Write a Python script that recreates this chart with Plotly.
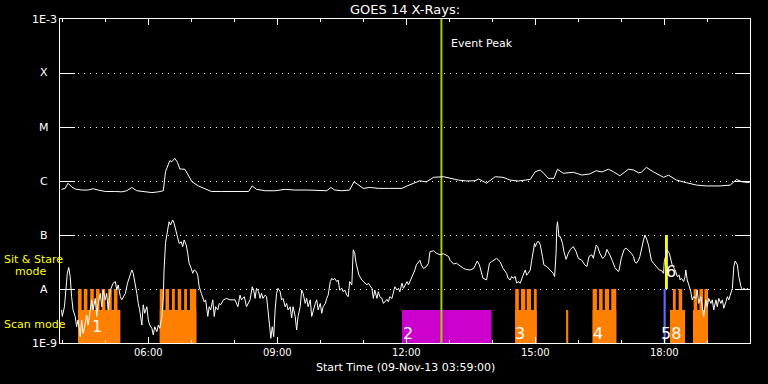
import math
import plotly.graph_objects as go

DAY = "2013-11-09 "


def T(lst):
    return [DAY + s for s in lst]


# ---------------- data ----------------
level_values = [1e-9, 1e-8, 1e-7, 1e-6, 1e-5, 1e-4, 1e-3]
level_labels = ["1E-9", "A", "B", "C", "M", "X", "1E-3"]
x_tick_times = ["06:00", "09:00", "12:00", "15:00", "18:00"]

# GOES 14 long channel (1-8 A)
long_time = [
    "03:59", "04:04", "04:08", "04:13", "04:18", "04:27", "04:36", "04:43", "04:50", "05:00",
    "05:13", "05:23", "05:30", "05:37", "05:44", "05:55", "06:05", "06:14", "06:21", "06:24",
    "06:28", "06:30", "06:33", "06:37", "06:41", "06:44", "06:51", "06:56", "07:01", "07:10",
    "07:19", "07:28", "07:42", "08:06", "08:20", "08:25", "08:31", "08:43", "08:57", "09:11",
    "09:25", "09:43", "09:57", "10:09", "10:15", "10:20", "10:30", "10:41", "10:47", "10:53",
    "11:00", "11:09", "11:21", "11:35", "11:54", "12:01", "12:10", "12:19", "12:28", "12:38",
    "12:52", "13:01", "13:13", "13:24", "13:36", "13:41", "13:47", "13:52", "14:04", "14:15",
    "14:25", "14:36", "14:46", "14:53", "15:00", "15:07", "15:14", "15:18", "15:26", "15:31",
    "15:39", "15:53", "16:05", "16:16", "16:25", "16:33", "16:42", "16:49", "16:58", "17:10",
    "17:17", "17:24", "17:28", "17:35", "17:45", "17:59", "18:06", "18:17", "18:31", "18:45",
    "18:59", "19:18", "19:32", "19:41", "19:48", "19:59",
]
long_flux = [
    7.0e-7, 7.3e-7, 9.1e-7, 7.8e-7, 7.1e-7, 6.8e-7, 6.8e-7, 7.2e-7, 6.8e-7, 6.4e-7,
    6.4e-7, 6.3e-7, 6.6e-7, 7.6e-7, 6.6e-7, 6.3e-7, 6.1e-7, 6.3e-7, 6.6e-7, 1.49e-6,
    1.98e-6, 2.38e-6, 2.28e-6, 2.63e-6, 2.18e-6, 1.67e-6, 1.65e-6, 1.29e-6, 9.7e-7, 8.1e-7,
    7.3e-7, 6.4e-7, 6.4e-7, 6.4e-7, 6.4e-7, 8.1e-7, 7.0e-7, 6.6e-7, 6.6e-7, 7.0e-7,
    6.8e-7, 6.8e-7, 6.8e-7, 6.6e-7, 7.6e-7, 6.8e-7, 6.6e-7, 6.8e-7, 9.7e-7, 8.4e-7,
    7.3e-7, 7.6e-7, 7.3e-7, 7.3e-7, 7.3e-7, 8.1e-7, 9.1e-7, 1.01e-6, 9.6e-7, 1.17e-6,
    1.2e-6, 1.12e-6, 1.04e-6, 1.0e-6, 1.01e-6, 1.09e-6, 9.7e-7, 9.1e-7, 1.2e-6, 1.17e-6,
    1.04e-6, 1.0e-6, 1.04e-6, 1.07e-6, 1.49e-6, 1.6e-6, 1.29e-6, 1.12e-6, 1.12e-6, 1.65e-6,
    1.39e-6, 1.45e-6, 1.29e-6, 1.35e-6, 1.55e-6, 1.47e-6, 1.65e-6, 1.49e-6, 1.25e-6, 1.65e-6,
    1.6e-6, 1.42e-6, 1.45e-6, 1.79e-6, 1.47e-6, 1.17e-6, 1.28e-6, 1.04e-6, 9.3e-7, 8.4e-7,
    8.1e-7, 8.1e-7, 8.4e-7, 1.07e-6, 9.7e-7, 9.3e-7,
]

# GOES 14 short channel (0.5-4 A)
short_time = [
    "03:59", "04:00", "04:03", "04:05", "04:07", "04:09", "04:11", "04:13", "04:15", "04:18",
    "04:20", "04:22", "04:25", "04:27", "04:29", "04:32", "04:34", "04:36", "04:39", "04:41",
    "04:43", "04:46", "04:48", "04:50", "04:53", "04:55", "04:57", "05:00", "05:02", "05:04",
    "05:07", "05:09", "05:11", "05:14", "05:16", "05:18", "05:21", "05:23", "05:25", "05:28",
    "05:31", "05:35", "05:37", "05:39", "05:41", "05:44", "05:46", "05:48", "05:51", "05:53",
    "05:55", "05:58", "06:00", "06:02", "06:05", "06:07", "06:09", "06:12", "06:14", "06:16",
    "06:19", "06:21", "06:22", "06:24", "06:27", "06:29", "06:31", "06:34", "06:36", "06:38",
    "06:41", "06:43", "06:46", "06:48", "06:50", "06:53", "06:55", "06:57", "07:00", "07:02",
    "07:04", "07:07", "07:09", "07:11", "07:14", "07:16", "07:18", "07:20", "07:23", "07:25",
    "07:27", "07:30", "07:32", "07:34", "07:37", "07:39", "07:41", "07:45", "07:49", "07:54",
    "08:01", "08:05", "08:08", "08:10", "08:14", "08:17", "08:22", "08:25", "08:27", "08:29",
    "08:31", "08:34", "08:36", "08:38", "08:40", "08:43", "08:45", "08:47", "08:49", "08:51",
    "08:53", "08:55", "08:57", "08:59", "09:01", "09:04", "09:06", "09:08", "09:11", "09:13",
    "09:15", "09:18", "09:20", "09:22", "09:25", "09:27", "09:29", "09:32", "09:34", "09:36",
    "09:39", "09:41", "09:43", "09:46", "09:48", "09:50", "09:53", "09:55", "09:57", "10:00",
    "10:02", "10:04", "10:07", "10:09", "10:11", "10:14", "10:16", "10:18", "10:20", "10:23",
    "10:25", "10:27", "10:30", "10:32", "10:34", "10:37", "10:39", "10:41", "10:44", "10:46",
    "10:48", "10:50", "10:52", "10:54", "10:58", "11:00", "11:02", "11:05", "11:07", "11:09",
    "11:12", "11:14", "11:16", "11:19", "11:21", "11:23", "11:26", "11:28", "11:30", "11:33",
    "11:35", "11:37", "11:40", "11:42", "11:44", "11:47", "11:49", "11:51", "11:54", "11:56",
    "11:58", "12:01", "12:03", "12:05", "12:07", "12:10", "12:12", "12:14", "12:17", "12:19",
    "12:21", "12:24", "12:28", "12:31", "12:33", "12:38", "12:42", "12:47", "12:52", "12:59",
    "13:01", "13:06", "13:10", "13:15", "13:20", "13:24", "13:29", "13:34", "13:36", "13:39",
    "13:42", "13:45", "13:47", "13:52", "13:54", "13:56", "13:59", "14:04", "14:06", "14:11",
    "14:15", "14:20", "14:22", "14:25", "14:27", "14:29", "14:32", "14:34", "14:36", "14:39",
    "14:41", "14:43", "14:46", "14:48", "14:50", "14:53", "14:55", "14:57", "14:59", "15:00",
    "15:03", "15:05", "15:07", "15:10", "15:12", "15:16", "15:20", "15:23", "15:25", "15:27",
    "15:29", "15:30", "15:31", "15:32", "15:33", "15:35", "15:38", "15:40", "15:43", "15:46",
    "15:49", "15:53", "15:57", "16:00", "16:05", "16:09", "16:12", "16:15", "16:19", "16:21",
    "16:25", "16:27", "16:30", "16:34", "16:37", "16:40", "16:44", "16:48", "16:51", "16:56",
    "16:57", "17:00", "17:04", "17:07", "17:11", "17:14", "17:17", "17:19", "17:21", "17:24",
    "17:26", "17:28", "17:31", "17:33", "17:35", "17:38", "17:40", "17:42", "17:45", "17:49",
    "17:53", "17:56", "17:59", "18:00", "18:02", "18:04", "18:07", "18:09", "18:11", "18:14",
    "18:16", "18:18", "18:21", "18:22", "18:24", "18:27", "18:29", "18:30", "18:32", "18:35",
    "18:37", "18:39", "18:41", "18:44", "18:46", "18:48", "18:51", "18:53", "18:55", "18:58",
    "19:00", "19:02", "19:05", "19:07", "19:09", "19:12", "19:14", "19:16", "19:19", "19:21",
    "19:23", "19:26", "19:28", "19:30", "19:33", "19:35", "19:37", "19:39", "19:42", "19:44",
    "19:47", "19:49", "19:51", "19:54", "19:56", "19:58",
]
short_flux = [
    4.1e-9, 3.1e-9, 4.7e-9, 1.1e-8, 1.95e-8, 2.5e-8, 1.7e-8, 7.2e-9, 4.1e-9, 3.1e-9,
    2.0e-9, 2.67e-9, 1.31e-9, 2.67e-9, 1.51e-9, 2.3e-9, 3.3e-9, 2.15e-9, 4.1e-9, 6.3e-9,
    4.1e-9, 6.7e-9, 3.1e-9, 5.4e-9, 8.3e-9, 4.7e-9, 9.6e-9, 6.3e-9, 8.3e-9, 4.1e-9,
    9.6e-9, 1.1e-8, 1.28e-8, 1.37e-8, 9.6e-9, 1.19e-8, 7.2e-9, 6.3e-9, 7.2e-9, 8.3e-9,
    1.28e-8, 1.8e-8, 2.25e-8, 1.95e-8, 1.47e-8, 8.3e-9, 5.4e-9, 4.1e-9, 2.15e-9, 5.1e-9,
    3.55e-9, 4.7e-9, 2.67e-9, 2.15e-9, 1.87e-9, 1.41e-9, 2.0e-9, 1.62e-9, 2.15e-9, 1.87e-9,
    3.1e-9, 7.2e-9, 2.25e-8, 7.0e-8, 1.24e-7, 1.76e-7, 1.53e-7, 1.9e-7, 1.65e-7, 1.24e-7,
    9.3e-8, 7.0e-8, 7.5e-8, 6.1e-8, 8.1e-8, 6.5e-8, 4.6e-8, 3.0e-8, 2.4e-8, 1.95e-8,
    2.25e-8, 2.1e-8, 1.8e-8, 1.1e-8, 8.3e-9, 6.7e-9, 5.8e-9, 6.3e-9, 3.1e-9, 4.7e-9,
    4.1e-9, 6.3e-9, 3.1e-9, 4.7e-9, 4.1e-9, 5.4e-9, 5.1e-9, 6.3e-9, 6.7e-9, 6.3e-9,
    6.3e-9, 4.7e-9, 7.7e-9, 6.3e-9, 7.2e-9, 4.7e-9, 6.3e-9, 1.1e-8, 9.6e-9, 6.7e-9,
    1.03e-8, 8.9e-9, 6.7e-9, 8.3e-9, 6.7e-9, 7.7e-9, 7.2e-9, 4.1e-9, 2.0e-9, 1.22e-9,
    2.0e-9, 1.31e-9, 4.1e-9, 8.3e-9, 1.03e-8, 8.9e-9, 6.3e-9, 6.7e-9, 4.7e-9, 5.4e-9,
    4.1e-9, 4.7e-9, 2.9e-9, 4.7e-9, 3.1e-9, 1.74e-9, 3.1e-9, 4.7e-9, 9.6e-9, 8.3e-9,
    5.4e-9, 6.7e-9, 4.7e-9, 6.3e-9, 3.1e-9, 4.1e-9, 5.4e-9, 6.3e-9, 4.1e-9, 5.4e-9,
    3.55e-9, 4.7e-9, 5.4e-9, 6.7e-9, 7.7e-9, 1.37e-8, 1.58e-8, 1.47e-8, 1.58e-8, 1.37e-8,
    1.47e-8, 9.6e-9, 1.03e-8, 8.9e-9, 9.6e-9, 7.7e-9, 7.2e-9, 1.37e-8, 1.19e-8, 5.3e-8,
    4.6e-8, 3.0e-8, 2.4e-8, 1.8e-8, 1.47e-8, 1.37e-8, 1.28e-8, 1.19e-8, 1.28e-8, 1.19e-8,
    1.03e-8, 6.7e-9, 9.6e-9, 6.7e-9, 8.9e-9, 7.2e-9, 6.7e-9, 5.4e-9, 5.8e-9, 6.4e-9,
    5.8e-9, 7.2e-9, 6.7e-9, 8.9e-9, 1.1e-8, 9.6e-9, 1.03e-8, 8.9e-9, 1.28e-8, 1.03e-8,
    1.19e-8, 1.37e-8, 1.19e-8, 1.37e-8, 1.7e-8, 1.95e-8, 2.25e-8, 2.8e-8, 3.2e-8, 3.4e-8,
    2.8e-8, 2.4e-8, 2.6e-8, 3.0e-8, 4.9e-8, 5.1e-8, 4.6e-8, 4.3e-8, 4.5e-8, 4.0e-8,
    3.4e-8, 2.9e-8, 3.0e-8, 2.67e-8, 2.4e-8, 2.3e-8, 2.25e-8, 2.4e-8, 2.8e-8, 3.3e-8,
    2.8e-8, 1.95e-8, 1.58e-8, 1.47e-8, 2.25e-8, 3.0e-8, 3.2e-8, 3.55e-8, 3.7e-8, 3.2e-8,
    2.4e-8, 1.95e-8, 1.58e-8, 1.47e-8, 1.7e-8, 1.58e-8, 1.7e-8, 1.28e-8, 1.37e-8, 1.28e-8,
    1.58e-8, 1.8e-8, 2.25e-8, 1.8e-8, 1.95e-8, 2.25e-8, 3.4e-8, 4.6e-8, 7.0e-8, 6.1e-8,
    7.5e-8, 7.5e-8, 6.5e-8, 4.0e-8, 2.8e-8, 2.6e-8, 2.25e-8, 2.1e-8, 1.95e-8, 1.7e-8,
    4.6e-8, 1.42e-7, 1.76e-7, 1.33e-7, 9.3e-8, 9.3e-8, 7.0e-8, 4.9e-8, 3.55e-8, 4.6e-8,
    5.4e-8, 6.1e-8, 4.9e-8, 3.7e-8, 3.4e-8, 2.8e-8, 2.6e-8, 4.0e-8, 4.3e-8, 3.7e-8,
    6.5e-8, 6.1e-8, 4.6e-8, 3.7e-8, 4.0e-8, 5.4e-8, 4.3e-8, 3.2e-8, 2.5e-8, 2.1e-8,
    2.25e-8, 3.7e-8, 5.4e-8, 5.7e-8, 5.1e-8, 4.6e-8, 4.0e-8, 3.2e-8, 3.0e-8, 3.4e-8,
    4.0e-8, 5.7e-8, 8.1e-8, 1.0e-7, 8.7e-8, 6.5e-8, 4.6e-8, 3.4e-8, 3.0e-8, 2.6e-8,
    2.25e-8, 2.2e-8, 1.95e-8, 3.2e-8, 4.0e-8, 5.3e-8, 4.6e-8, 3.4e-8, 2.8e-8, 2.4e-8,
    2.1e-8, 1.7e-8, 1.8e-8, 1.47e-8, 1.58e-8, 1.37e-8, 1.7e-8, 2.25e-8, 1.47e-8, 1.1e-8,
    8.9e-9, 6.3e-9, 7.2e-9, 6.7e-9, 9.6e-9, 5.4e-9, 7.2e-9, 4.7e-9, 3.1e-9, 6.3e-9,
    4.7e-9, 6.7e-9, 5.4e-9, 6.3e-9, 4.1e-9, 6.3e-9, 4.7e-9, 6.7e-9, 5.4e-9, 6.3e-9,
    4.4e-9, 5.8e-9, 7.2e-9, 6.3e-9, 8.9e-9, 1.03e-8, 2.6e-8, 3.3e-8, 2.8e-8, 1.7e-8,
    1.1e-8, 9.6e-9, 1.03e-8, 9.6e-9, 1.03e-8, 9.6e-9,
]

# observing mode intervals
scan_low_start = ["04:22", "06:16", "14:32", "15:43", "16:20", "18:08", "18:40"]
scan_low_end = ["05:21", "07:07", "15:02", "15:46", "16:53", "18:29", "19:01"]
scan_high_start = ["04:22", "04:30", "04:39", "04:47", "04:55", "05:04", "05:12",
                   "06:16", "06:24", "06:33", "06:41", "06:50", "06:58",
                   "14:32", "14:40", "14:48", "14:58",
                   "16:20", "16:29", "16:37", "16:46",
                   "18:12", "18:20",
                   "18:41", "18:49", "18:56"]
scan_high_end = ["04:27", "04:35", "04:44", "04:52", "05:00", "05:09", "05:17",
                 "06:21", "06:29", "06:37", "06:46", "06:54", "07:07",
                 "14:37", "14:46", "14:54", "15:02",
                 "16:26", "16:34", "16:43", "16:53",
                 "18:16", "18:25",
                 "18:46", "18:54", "19:01"]
sit_start = ["11:54"]
sit_end = ["13:59"]
blue_start, blue_end = ["17:59"], ["18:02"]
yellow_start, yellow_end = ["18:01"], ["18:05"]
level_floor, level_low, level_A, level_B = 1e-9, 4.1e-9, 1e-8, 1e-7

event_peak_time = "12:49"

mode_label_text = ["1", "2", "3", "4", "58", "6"]
mode_label_time = ["04:48", "12:02", "14:39", "16:28", "18:10", "18:10"]
mode_label_ypx = [326, 333, 333, 333, 333, 271]

# ---------------- figure ----------------
L, R, TOP, BOT = 60, 18, 19, 41
W, H = 768, 384
PW, PH = W - L - R, H - TOP - BOT


def px_x(px):
    return (px - L) / PW


def px_y(py):
    return (H - BOT - py) / PH


def rects(starts, ends, lo, hi):
    xs, ys = [], []
    for s, e in zip(T(starts), T(ends)):
        xs += [s, s, e, e, s, None]
        ys += [lo, hi, hi, lo, lo, None]
    return xs, ys


fig = go.Figure()

ORANGE = "#FF8000"
for (st, en, lo, hi, col) in [
    (scan_low_start, scan_low_end, level_floor, level_low, ORANGE),
    (scan_high_start, scan_high_end, level_floor, level_A, ORANGE),
    (sit_start, sit_end, level_floor, level_low, "#CC00CC"),
    (blue_start, blue_end, level_floor, level_A, "#6666FF"),
    (yellow_start, yellow_end, level_A, level_B, "#FFFF00"),
]:
    xs, ys = rects(st, en, lo, hi)
    fig.add_trace(go.Scatter(x=xs, y=ys, mode="lines", fill="toself",
                             fillcolor=col, line=dict(width=0, color=col),
                             hoverinfo="skip", showlegend=False))

fig.add_trace(go.Scatter(x=T([event_peak_time, event_peak_time]), y=[1e-9, 1e-3],
                         mode="lines", line=dict(color="#A0D000", width=2),
                         showlegend=False))

fig.add_trace(go.Scatter(x=T(long_time), y=long_flux, mode="lines",
                         line=dict(color="white", width=1), showlegend=False))
fig.add_trace(go.Scatter(x=T(short_time), y=short_flux, mode="lines",
                         line=dict(color="white", width=1), showlegend=False))

FONT = "DejaVu Sans"
ann = []
for v, lab in zip(level_values, level_labels):
    ann.append(dict(x=px_x(44), y=(math.log10(v) + 9) / 6, xref="paper", yref="paper",
                    text=lab, showarrow=False, xanchor="center", yanchor="middle",
                    font=dict(family=FONT, size=11, color="white")))
for txt, t, py in zip(mode_label_text, mode_label_time, mode_label_ypx):
    ann.append(dict(x=DAY + t, y=px_y(py), xref="x", yref="paper", text=txt,
                    showarrow=False, xanchor="center", yanchor="middle",
                    font=dict(family=FONT, size=16, color="white")))
ann += [
    dict(x=px_x(2), y=px_y(259), xref="paper", yref="paper", text="Sit & Stare",
         showarrow=False, xanchor="left", yanchor="middle",
         font=dict(family=FONT, size=11, color="#FFFF00")),
    dict(x=px_x(13), y=px_y(271.5), xref="paper", yref="paper", text="mode",
         showarrow=False, xanchor="left", yanchor="middle",
         font=dict(family=FONT, size=11, color="#FFFF00")),
    dict(x=px_x(2), y=px_y(324), xref="paper", yref="paper", text="Scan mode",
         showarrow=False, xanchor="left", yanchor="middle",
         font=dict(family=FONT, size=11, color="#FFFF00")),
    dict(x=0.5, y=px_y(9), xref="paper", yref="paper", text="GOES 14 X-Rays:",
         showarrow=False, xanchor="center", yanchor="middle",
         font=dict(family=FONT, size=13, color="white")),
    dict(x=0.5, y=px_y(368), xref="paper", yref="paper",
         text="Start Time (09-Nov-13 03:59:00)",
         showarrow=False, xanchor="center", yanchor="middle",
         font=dict(family=FONT, size=11, color="white")),
    dict(x=DAY + event_peak_time, y=px_y(43), xref="x", yref="paper", text="Event Peak",
         showarrow=False, xanchor="left", yanchor="middle", xshift=8,
         font=dict(family=FONT, size=11, color="white")),
]

fig.update_layout(
    width=W, height=H, autosize=False,
    margin=dict(l=L, r=R, t=TOP, b=BOT, pad=0),
    paper_bgcolor="black", plot_bgcolor="black",
    showlegend=False, annotations=ann,
    xaxis=dict(
        type="date",
        range=[DAY + "03:56:48", DAY + "19:59:36"],
        tickvals=T(x_tick_times), ticktext=x_tick_times,
        ticks="inside", ticklen=6, tickwidth=1, tickcolor="white",
        showline=True, linecolor="white", linewidth=1, mirror="ticks",
        showgrid=False, zeroline=False,
        tickfont=dict(family=FONT, size=10, color="white"),
        minor=dict(ticks="inside", ticklen=3, tickwidth=1, tickcolor="white",
                   dtick=3600000, tick0=DAY + "00:00", showgrid=False),
    ),
    yaxis=dict(
        type="log", range=[-9, -3],
        tickvals=level_values, showticklabels=False,
        ticks="inside", ticklen=15, tickwidth=1, tickcolor="white",
        showline=True, linecolor="white", linewidth=1, mirror="ticks",
        showgrid=True, gridcolor="white", gridwidth=1, griddash="1px,5px",
        zeroline=False,
    ),
)

fig.write_html("out.html")
